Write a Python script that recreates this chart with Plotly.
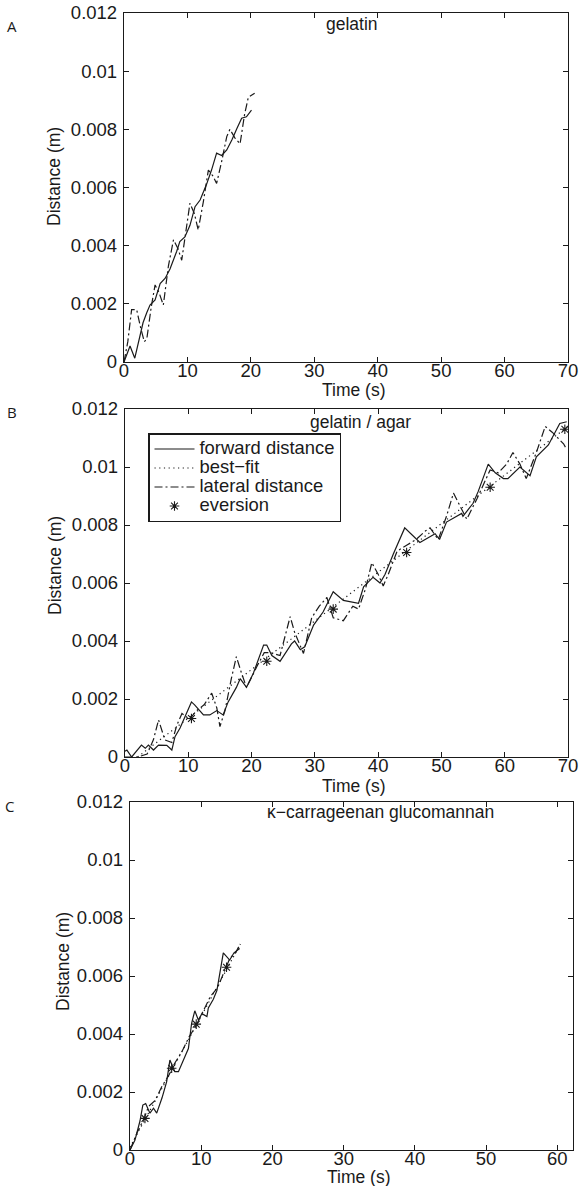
import plotly.graph_objects as go

# ---------------- data ----------------
# Panel A: gelatin
a_fwd_t = [0, 0.5, 0.95, 1.7, 2.3, 3.0, 3.6, 4.1, 4.9, 5.7, 6.5, 7.25, 8.3, 8.8, 9.6, 10.4,
           11.2, 12.0, 13.0, 13.8, 14.6, 15.4, 16.2, 17.0, 17.8, 18.55, 19.3, 20.1]
a_fwd_d = [0, 0.0003, 0.00055, 0.00013, 0.0007, 0.00135, 0.0017, 0.00196, 0.00213, 0.0027,
           0.00288, 0.0032, 0.0038, 0.00414, 0.0043, 0.0047, 0.00534, 0.00557, 0.0061, 0.0066,
           0.00718, 0.0071, 0.00729, 0.00763, 0.00803, 0.00838, 0.00843, 0.00866]
a_lat_t = [0, 0.6, 1.2, 2.0, 2.6, 3.2, 3.6, 4.3, 4.9, 5.5, 6.2, 7.0, 7.8, 8.5, 9.1, 9.8, 10.4,
           11.1, 11.7, 12.5, 13.3, 14.0, 14.6, 15.4, 16.2, 16.7, 17.5, 18.3, 19.0, 19.6, 20.6]
a_lat_d = [0, 0.0007, 0.0018, 0.0018, 0.0012, 0.0007, 0.0008, 0.0019, 0.00265, 0.0024,
           0.00196, 0.0033, 0.0042, 0.0039, 0.0035, 0.0045, 0.00546, 0.0051, 0.00454, 0.0055,
           0.0066, 0.0064, 0.00614, 0.0069, 0.00775, 0.0080, 0.0077, 0.0075, 0.0085, 0.0091,
           0.00924]

# Panel B: gelatin / agar
b_fwd_t = [0, 0.3, 1.05, 2.6, 3.2, 3.7, 4.5, 5.3, 6.6, 7.4, 7.9, 8.7, 10.5, 11.0, 12.4, 13.4,
           14.5, 15.5, 16.3, 17.6, 18.2, 19.2, 20.3, 21.9, 22.4, 23.2, 24.5, 26.3, 26.8, 27.7,
           28.4, 29.8, 31.3, 32.9, 34.5, 35.5, 36.9, 37.7, 39.2, 40.3, 41.1, 42.4, 44.2, 46.6,
           47.4, 49.0, 49.7, 50.8, 53.2, 53.4, 55.0, 55.8, 57.4, 58.5, 59.8, 60.5, 62.4, 64.0,
           65.0, 66.9, 68.7, 69.8]
b_fwd_d = [0.0002, 0.00024, 0.0, 0.00041, 0.0003, 0.00041, 0.00024, 0.00041, 0.0004, 0.00024,
           0.0007, 0.001, 0.0019, 0.0018, 0.00145, 0.00145, 0.0016, 0.00145, 0.0019, 0.0024,
           0.0027, 0.0024, 0.0029, 0.00386, 0.00386, 0.0035, 0.0033, 0.0039, 0.004, 0.0037,
           0.0038, 0.00455, 0.005, 0.0057, 0.0054, 0.00535, 0.0053, 0.00587, 0.0062, 0.006,
           0.0063, 0.007, 0.0079, 0.0074, 0.0075, 0.0077, 0.0075, 0.0081, 0.0084, 0.0083,
           0.00875, 0.00915, 0.0101, 0.0098, 0.0096, 0.0096, 0.01, 0.0097, 0.01035, 0.01076,
           0.0115, 0.01156]
b_lat_t = [0, 2.0, 3.5, 4.5, 5.3, 6.3, 7.4, 8.2, 9.0, 10.2, 11.3, 12.5, 13.7, 14.5, 15.0, 15.8,
           16.8, 17.6, 18.4, 19.2, 20.8, 22.0, 23.0, 24.5, 26.1, 26.8, 28.2, 29.5, 30.7, 31.9,
           32.9, 34.5, 36.0, 36.9, 38.0, 39.0, 40.0, 40.8, 41.6, 43.0, 44.5, 46.0, 47.5, 48.2,
           49.5, 50.8, 51.9, 53.0, 54.0, 55.6, 57.7, 59.0, 60.3, 61.3, 62.4, 63.4, 65.0, 66.4,
           67.5, 69.3, 69.8]
b_lat_d = [0.0, 0.0, 0.0001, 0.0006, 0.00128, 0.00059, 0.0005, 0.0011, 0.0015, 0.0013, 0.0016,
           0.0018, 0.0022, 0.0017, 0.00105, 0.0016, 0.0027, 0.00346, 0.0029, 0.0024, 0.0031,
           0.0036, 0.0036, 0.0035, 0.00484, 0.0043, 0.00357, 0.0048, 0.0052, 0.0055, 0.0048,
           0.0047, 0.0052, 0.0051, 0.0058, 0.0067, 0.0063, 0.0059, 0.0063, 0.0071, 0.0073,
           0.0075, 0.0078, 0.0079, 0.0075, 0.0083, 0.0091, 0.0086, 0.0082, 0.0089, 0.0099,
           0.0098, 0.0101, 0.0105, 0.0101, 0.0096, 0.0105, 0.0114, 0.0112, 0.0108, 0.0106]
b_fit_t = [2.0, 70.0]
b_fit_d = [0.0, 0.0114]
b_ev_t = [10.5, 22.4, 32.9, 44.5, 57.7, 69.5]
b_ev_d = [0.00133, 0.0033, 0.0051, 0.00705, 0.0093, 0.0113]

# Panel C: kappa-carrageenan glucomannan
c_fwd_t = [0, 0.7, 1.4, 1.8, 2.2, 2.8, 3.3, 3.75, 4.5, 5.15, 5.6, 6.3, 6.8, 7.5, 8.2, 8.65,
           9.1, 9.6, 10.1, 10.8, 11.0, 11.7, 12.2, 13.1, 14.0, 14.6, 15.4]
c_fwd_d = [0, 0.00034, 0.001, 0.00155, 0.0016, 0.00127, 0.00144, 0.00127, 0.0018, 0.00236,
           0.0031, 0.0027, 0.0027, 0.0031, 0.0035, 0.00437, 0.0048, 0.00448, 0.0047, 0.0046,
           0.0049, 0.0052, 0.0055, 0.0068, 0.00655, 0.0068, 0.00695]
c_lat_t = [0, 1.0, 2.0, 2.6, 3.5, 4.5, 5.5, 6.3, 7.3, 8.3, 9.3, 10.3, 11.3, 12.3, 13.2, 14.0,
           14.8, 15.5]
c_lat_d = [0, 0.0006, 0.0011, 0.0015, 0.0017, 0.0022, 0.0026, 0.0030, 0.0034, 0.0039, 0.0043,
           0.0048, 0.0053, 0.0056, 0.0061, 0.0066, 0.0068, 0.0071]
c_fit_t = [0.0, 15.5]
c_fit_d = [0.0001, 0.0071]
c_ev_t = [2.1, 5.85, 9.3, 13.55]
c_ev_d = [0.00109, 0.00282, 0.00434, 0.0063]

y_ticks = [0, 0.002, 0.004, 0.006, 0.008, 0.01, 0.012]
y_tick_text = ["0", "0.002", "0.004", "0.006", "0.008", "0.01", "0.012"]
x_ticks = [0, 10, 20, 30, 40, 50, 60, 70]
x_tick_text = ["0", "10", "20", "30", "40", "50", "60", "70"]

legend_names = ["forward distance", "best\u2212fit", "lateral distance", "eversion"]
panel_titles = ["gelatin", "gelatin / agar", "\u03ba\u2212carrageenan glucomannan"]
panel_letters = ["A", "B", "C"]

# ---------------- figure ----------------
W, H = 581, 1186
INK = "#1a1a1a"
FONT = "Liberation Sans, Arial, sans-serif"
FS = 17.5      # titles / annotations
TFS = 18.5     # tick labels
LEG_FS = 18.4  # legend text

fig = go.Figure()


def px_x(p):
    return p / W


def px_y(p):
    return 1 - p / H


def leg_label(s):
    return '<span style="font-size:%spx">%s</span>' % (LEG_FS, s)


def add_line(t, d, ax, dash, name, show):
    fig.add_trace(go.Scatter(
        x=t, y=d, mode="lines", name=leg_label(name), showlegend=show,
        xaxis="x" + ax, yaxis="y" + ax,
        line=dict(color=INK, width=1.2, dash=dash)))


def add_ev(t, d, ax, name, show):
    fig.add_trace(go.Scatter(
        x=t, y=d, mode="markers", name=leg_label(name), showlegend=show,
        xaxis="x" + ax, yaxis="y" + ax,
        marker=dict(symbol="asterisk-open", size=8, color=INK,
                    line=dict(color=INK, width=1.1))))


DOT = "1.2px,3.5px"
DASHDOT = "8px,3px,2px,3px"

# legend order: forward, best-fit, lateral, eversion (panel B)
add_line(b_fwd_t, b_fwd_d, "2", "solid", legend_names[0], True)
add_line(b_fit_t, b_fit_d, "2", DOT, legend_names[1], True)
add_line(b_lat_t, b_lat_d, "2", DASHDOT, legend_names[2], True)
add_ev(b_ev_t, b_ev_d, "2", legend_names[3], True)

add_line(a_fwd_t, a_fwd_d, "", "solid", legend_names[0], False)
add_line(a_lat_t, a_lat_d, "", DASHDOT, legend_names[2], False)

add_line(c_fwd_t, c_fwd_d, "3", "solid", legend_names[0], False)
add_line(c_fit_t, c_fit_d, "3", DOT, legend_names[1], False)
add_line(c_lat_t, c_lat_d, "3", DASHDOT, legend_names[2], False)
add_ev(c_ev_t, c_ev_d, "3", legend_names[3], False)

# panel pixel boxes: (left, right, top, bottom, xmax)
boxes = [(124, 568, 13, 362, 70), (125, 568, 409, 757, 70), (130, 573, 802, 1150, 62.2)]

axis_common = dict(showline=True, linecolor=INK, linewidth=1.3, mirror="ticks",
                   ticks="inside", ticklen=5, tickwidth=1, tickcolor=INK,
                   showgrid=False, zeroline=False, automargin=False,
                   tickfont=dict(family=FONT, size=TFS, color=INK))

layout_axes = {}
for i, (l, r, t, b, xmax) in enumerate(boxes):
    sfx = "" if i == 0 else str(i + 1)
    layout_axes["xaxis" + sfx] = dict(
        axis_common, domain=[px_x(l), px_x(r)], range=[0, xmax],
        anchor="y" + sfx, tickvals=x_ticks, ticktext=x_tick_text,
        ticklabelstandoff=-8)
    layout_axes["yaxis" + sfx] = dict(
        axis_common, domain=[px_y(b), px_y(t)], range=[0, 0.012],
        anchor="x" + sfx, tickvals=y_ticks, ticktext=y_tick_text,
        ticklabelstandoff=2)

annotations = []
# panel titles inside plot
title_pos = [(352, 24), (360, 422), (380, 812)]
for txt, (x, y) in zip(panel_titles, title_pos):
    annotations.append(dict(text=txt, x=px_x(x), y=px_y(y), xref="paper", yref="paper",
                            showarrow=False, xanchor="center", yanchor="middle",
                            font=dict(family=FONT, size=FS, color=INK)))
# panel letters
letter_pos = [(12, 26), (12, 412), (10, 806)]
for txt, (x, y) in zip(panel_letters, letter_pos):
    annotations.append(dict(text=txt, x=px_x(x), y=px_y(y), xref="paper", yref="paper",
                            showarrow=False, xanchor="center", yanchor="middle",
                            font=dict(family="Open Sans, sans-serif", size=15, color=INK)))
# axis titles
xt_pos = [(354, 390), (354, 786), (359, 1177)]
for (x, y) in xt_pos:
    annotations.append(dict(text="Time (s)", x=px_x(x), y=px_y(y), xref="paper", yref="paper",
                            showarrow=False, xanchor="center", yanchor="middle",
                            font=dict(family=FONT, size=FS, color=INK)))
yt_pos = [(54, 177), (55, 566), (63, 962)]
for (x, y) in yt_pos:
    annotations.append(dict(text="Distance (m)", x=px_x(x), y=px_y(y), xref="paper",
                            yref="paper", showarrow=False, textangle=-90,
                            xanchor="center", yanchor="middle",
                            font=dict(family=FONT, size=FS, color=INK)))

fig.update_layout(
    width=W, height=H,
    margin=dict(l=0, r=0, t=0, b=0, pad=0),
    paper_bgcolor="white", plot_bgcolor="white",
    font=dict(family=FONT, size=FS, color=INK),
    legend=dict(x=px_x(148), y=px_y(433), xanchor="left", yanchor="top",
                bgcolor="white", bordercolor=INK, borderwidth=1.5,
                font=dict(family=FONT, size=12.3, color=INK),
                tracegroupgap=0, itemwidth=40),
    annotations=annotations,
    **layout_axes,
)

fig.write_html("out.html")
